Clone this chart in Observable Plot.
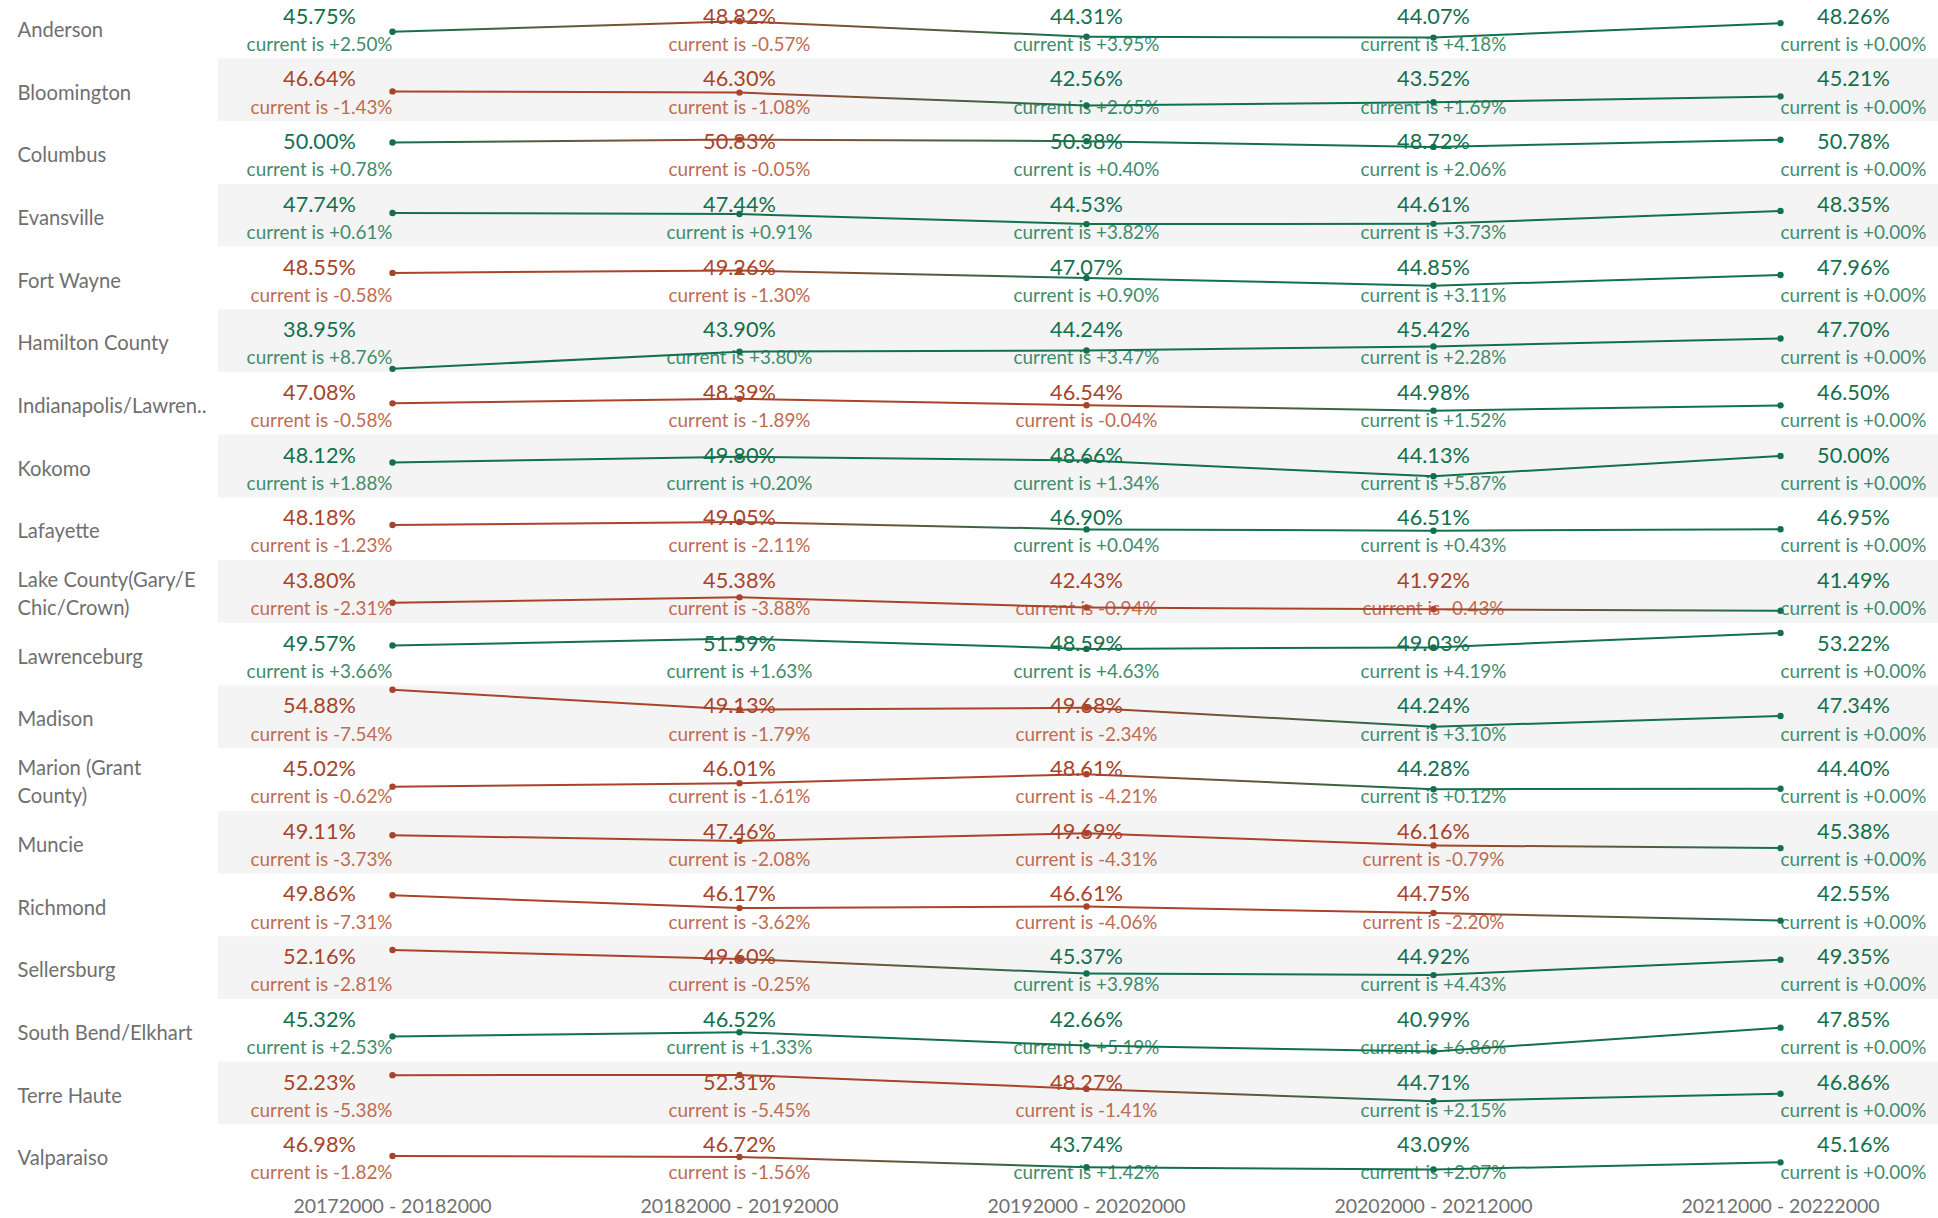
<!DOCTYPE html>
<html>
<head>
<meta charset="utf-8">
<script src="https://cdn.jsdelivr.net/npm/d3@7"></script>
<script src="https://cdn.jsdelivr.net/npm/@observablehq/plot@0.6"></script>
<style>
  html, body { margin: 0; padding: 0; background: #fff; overflow: hidden; }
  #chart svg { display: block; overflow: hidden; }
</style>
</head>
<body>
<div id="chart"></div>
<script>
const periods = ["20172000 - 20182000", "20182000 - 20192000", "20192000 - 20202000", "20202000 - 20212000", "20212000 - 20222000"];

const cities = ["Anderson", "Bloomington", "Columbus", "Evansville", "Fort Wayne", "Hamilton County",
  "Indianapolis/Lawren..", "Kokomo", "Lafayette", "Lake County(Gary/E Chic/Crown)", "Lawrenceburg",
  "Madison", "Marion (Grant County)", "Muncie", "Richmond", "Sellersburg", "South Bend/Elkhart",
  "Terre Haute", "Valparaiso"];

const cityLabels = ["Anderson", "Bloomington", "Columbus", "Evansville", "Fort Wayne", "Hamilton County",
  "Indianapolis/Lawren..", "Kokomo", "Lafayette", "Lake County(Gary/E\nChic/Crown)", "Lawrenceburg",
  "Madison", "Marion (Grant\nCounty)", "Muncie", "Richmond", "Sellersburg", "South Bend/Elkhart",
  "Terre Haute", "Valparaiso"];

// values (%) per period, one entry per city
const v1718 = [45.75, 46.64, 50.00, 47.74, 48.55, 38.95, 47.08, 48.12, 48.18, 43.80, 49.57, 54.88, 45.02, 49.11, 49.86, 52.16, 45.32, 52.23, 46.98];
const v1819 = [48.82, 46.30, 50.83, 47.44, 49.26, 43.90, 48.39, 49.80, 49.05, 45.38, 51.59, 49.13, 46.01, 47.46, 46.17, 49.60, 46.52, 52.31, 46.72];
const v1920 = [44.31, 42.56, 50.38, 44.53, 47.07, 44.24, 46.54, 48.66, 46.90, 42.43, 48.59, 49.68, 48.61, 49.69, 46.61, 45.37, 42.66, 48.27, 43.74];
const v2021 = [44.07, 43.52, 48.72, 44.61, 44.85, 45.42, 44.98, 44.13, 46.51, 41.92, 49.03, 44.24, 44.28, 46.16, 44.75, 44.92, 40.99, 44.71, 43.09];
const v2122 = [48.26, 45.21, 50.78, 48.35, 47.96, 47.70, 46.50, 50.00, 46.95, 41.49, 53.22, 47.34, 44.40, 45.38, 42.55, 49.35, 47.85, 46.86, 45.16];

// "current is" differences (%) per period
const d1718 = [2.50, -1.43, 0.78, 0.61, -0.58, 8.76, -0.58, 1.88, -1.23, -2.31, 3.66, -7.54, -0.62, -3.73, -7.31, -2.81, 2.53, -5.38, -1.82];
const d1819 = [-0.57, -1.08, -0.05, 0.91, -1.30, 3.80, -1.89, 0.20, -2.11, -3.88, 1.63, -1.79, -1.61, -2.08, -3.62, -0.25, 1.33, -5.45, -1.56];
const d1920 = [3.95, 2.65, 0.40, 3.82, 0.90, 3.47, -0.04, 1.34, 0.04, -0.94, 4.63, -2.34, -4.21, -4.31, -4.06, 3.98, 5.19, -1.41, 1.42];
const d2021 = [4.18, 1.69, 2.06, 3.73, 3.11, 2.28, 1.52, 5.87, 0.43, -0.43, 4.19, 3.10, 0.12, -0.79, -2.20, 4.43, 6.86, 2.15, 2.07];
const d2122 = [0, 0, 0, 0, 0, 0, 0, 0, 0, 0, 0, 0, 0, 0, 0, 0, 0, 0, 0];

const valueCols = [v1718, v1819, v1920, v2021, v2122];
const diffCols = [d1718, d1819, d1920, d2021, d2122];

const GREEN = "#13704d", RED = "#a9442a";
const GREEN_SUB = "#3f8c6d", RED_SUB = "#c06b53";

const rows = [];
cities.forEach((city, i) => {
  periods.forEach((period, j) => {
    const value = valueCols[j][i], diff = diffCols[j][i];
    const pos = diff >= 0;
    rows.push({city, period, j, value, diff, pos,
      col: pos ? GREEN : RED, sub: pos ? GREEN_SUB : RED_SUB});
  });
});

const segs = [];
cities.forEach(city => {
  const r = rows.filter(d => d.city === city);
  for (let k = 0; k < r.length - 1; k++) {
    const a = r[k], b = r[k + 1];
    const stroke = a.pos === b.pos ? a.col : (a.pos ? "url(#g-gr)" : "url(#g-rg)");
    segs.push({city, p1: a.period, p2: b.period, v1: a.value, v2: b.value, stroke});
  }
});

const fmtV = d => d.value.toFixed(2) + "%";
const fmtD = d => "current is " + (d.diff >= 0 ? "+" : "-") + Math.abs(d.diff).toFixed(2) + "%";
const first = rows.filter(d => d.j === 0);
const mid = rows.filter(d => d.j > 0 && d.j < 4);
const last = rows.filter(d => d.j === 4);
const oddCities = cities.filter((c, i) => i % 2 === 1);

const VAL_DY = 20.5, SUB_DY = 48.5, VAL_FS = 21.7, SUB_FS = 18.9, HALF = 73;

const chart = Plot.plot({
  width: 1938,
  height: 1218,
  marginLeft: 218,
  marginRight: -15,
  marginTop: -4.2,
  marginBottom: 31,
  style: {fontFamily: "Lato, 'Open Sans', sans-serif", background: "#fff"},
  x: {type: "point", domain: periods, padding: 0.5},
  y: {domain: [37.9, 56.0], axis: null},
  fy: {domain: cities, padding: 0, round: false, axis: null},
  color: {type: "identity"},
  marks: [
    Plot.rect(oddCities, {fy: d => d, fill: "#f4f4f4"}),
    Plot.text(cities, {fy: d => d, text: d => cityLabels[cities.indexOf(d)], frameAnchor: "left",
      textAnchor: "start", lineAnchor: "middle", dx: -201, fontSize: 20.2, fill: "#6f6f6f", lineHeight: 1.42}),
    // value labels
    Plot.text(first, {x: "period", fy: "city", text: fmtV, frameAnchor: "top", lineAnchor: "middle",
      dy: VAL_DY, dx: -HALF, fontSize: VAL_FS, fill: "col"}),
    Plot.text(mid, {x: "period", fy: "city", text: fmtV, frameAnchor: "top", lineAnchor: "middle",
      dy: VAL_DY, fontSize: VAL_FS, fill: "col"}),
    Plot.text(last, {x: "period", fy: "city", text: fmtV, frameAnchor: "top", lineAnchor: "middle",
      dy: VAL_DY, dx: HALF, fontSize: VAL_FS, fill: "col"}),
    // "current is" labels
    Plot.text(first, {x: "period", fy: "city", text: fmtD, frameAnchor: "top", lineAnchor: "middle",
      dy: SUB_DY, textAnchor: "end", fontSize: SUB_FS, fill: "sub"}),
    Plot.text(mid, {x: "period", fy: "city", text: fmtD, frameAnchor: "top", lineAnchor: "middle",
      dy: SUB_DY, fontSize: SUB_FS, fill: "sub"}),
    Plot.text(last, {x: "period", fy: "city", text: fmtD, frameAnchor: "top", lineAnchor: "middle",
      dy: SUB_DY, textAnchor: "start", fontSize: SUB_FS, fill: "sub"}),
    // lines and points
    Plot.link(segs, {x1: "p1", x2: "p2", y1: "v1", y2: "v2", fy: "city", stroke: "stroke", strokeWidth: 2}),
    Plot.dot(rows, {x: "period", y: "value", fy: "city", r: 3.2, fill: "col", stroke: null}),
    Plot.axisX({tickSize: 0, tickPadding: 12, fontSize: 19.5, fill: "#707070", label: null})
  ]
});

const svg = d3.select(chart.tagName === "svg" ? chart : chart.querySelector("svg"));
const defs = svg.insert("defs", ":first-child");
[["g-gr", GREEN, RED], ["g-rg", RED, GREEN]].forEach(([id, a, b]) => {
  const g = defs.append("linearGradient").attr("id", id).attr("x1", "0%").attr("x2", "100%").attr("y1", "0%").attr("y2", "0%");
  g.append("stop").attr("offset", "0%").attr("stop-color", a);
  g.append("stop").attr("offset", "100%").attr("stop-color", b);
});

document.getElementById("chart").appendChild(chart);
</script>
</body>
</html>
